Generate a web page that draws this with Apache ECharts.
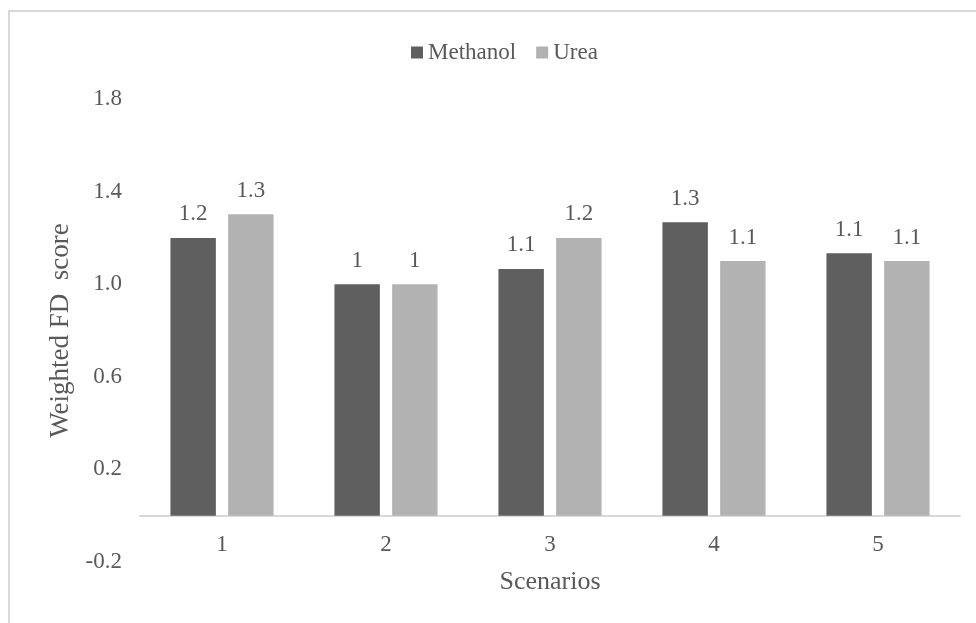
<!DOCTYPE html>
<html>
<head>
<meta charset="utf-8">
<script src="https://cdn.jsdelivr.net/npm/echarts@6/dist/echarts.min.js"></script>
<style>
html,body{margin:0;padding:0;background:#fff;}
#frame{position:absolute;left:8px;top:10px;width:968px;height:613px;border-top:2px solid #d9d9d9;border-left:2px solid #d9d9d9;box-sizing:border-box;}
#chart{position:absolute;left:0;top:0;width:976px;height:623px;}
</style>
</head>
<body>
<div id="frame"></div>
<div id="chart"></div>
<script>
const categories = ['1', '2', '3', '4', '5'];
const seriesNames = ['Methanol', 'Urea'];
const methanol = [1.2, 1.0, 1.066, 1.268, 1.134];
const urea = [1.302, 1.0, 1.2, 1.1, 1.1];
const yTicks = [-0.2, 0.2, 0.6, 1.0, 1.4, 1.8];

const FONT = 'Liberation Serif';
const TXT = '#595959';
const fmtLabel = p => String(Number(p.value.toFixed(1)));

const chart = echarts.init(document.getElementById('chart'), null, {renderer: 'canvas'});
chart.setOption({
  backgroundColor: 'transparent',
  animation: false,
  textStyle: {fontFamily: FONT, color: TXT},
  legend: {
    data: seriesNames,
    top: 36,
    left: 406,
    itemWidth: 12,
    itemHeight: 12,
    itemGap: 20,
    icon: 'rect',
    textStyle: {fontFamily: FONT, fontSize: 23, color: TXT}
  },
  grid: {left: 140, right: 16, top: 99, bottom: 61, containLabel: false, outerBoundsMode: 'none'},
  xAxis: {
    type: 'category',
    data: categories,
    name: 'Scenarios',
    nameLocation: 'middle',
    nameGap: 7,
    nameTextStyle: {fontFamily: FONT, fontSize: 26, color: TXT},
    axisLine: {onZero: true, lineStyle: {color: '#d9d9d9', width: 2}},
    axisTick: {show: false},
    axisLabel: {fontFamily: FONT, fontSize: 23, color: TXT, margin: -29}
  },
  yAxis: {
    type: 'value',
    min: -0.2,
    max: 1.8,
    interval: 0.4,
    name: 'Weighted FD  score',
    nameLocation: 'middle',
    nameGap: 64,
    nameTextStyle: {fontFamily: FONT, fontSize: 27, color: TXT},
    axisLine: {show: false},
    axisTick: {show: false},
    splitLine: {show: false},
    axisLabel: {
      fontFamily: FONT, fontSize: 23, color: TXT, margin: 18,
      customValues: yTicks,
      formatter: v => v.toFixed(1)
    }
  },
  series: [
    {
      name: seriesNames[0], type: 'bar', data: methanol,
      barWidth: '27.7%', barGap: '27%',
      itemStyle: {color: '#5f5f5f'},
      label: {show: true, position: 'top', distance: 12, formatter: fmtLabel,
              fontFamily: FONT, fontSize: 23, color: TXT}
    },
    {
      name: seriesNames[1], type: 'bar', data: urea,
      barWidth: '27.7%', barGap: '27%',
      itemStyle: {color: '#b2b2b2'},
      label: {show: true, position: 'top', distance: 12, formatter: fmtLabel,
              fontFamily: FONT, fontSize: 23, color: TXT}
    }
  ]
});
</script>
</body>
</html>
